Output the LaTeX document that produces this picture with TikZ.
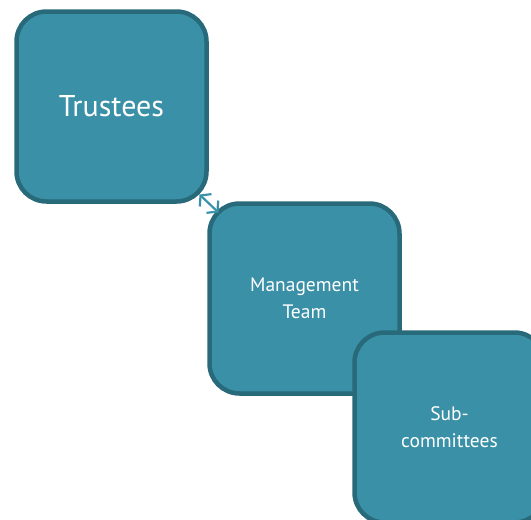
\documentclass[tikz,border=0pt]{standalone}
\usepackage{fontspec}
\setmainfont{PT Sans}
\usetikzlibrary{arrows.meta,calc}
\definecolor{boxfill}{RGB}{58,144,166}
\definecolor{boxline}{RGB}{40,106,122}
\definecolor{arrowcol}{RGB}{58,146,170}
\begin{document}
\begin{tikzpicture}[x=1pt,y=-1pt,
  orgbox/.style={draw=boxline, fill=boxfill, line width=4.5pt, rounded corners=30pt,
    minimum width=190pt, minimum height=190pt, outer sep=0pt, inner sep=0pt,
    text=white, align=center},
  bigtext/.style={font=\fontsize{30}{34}\selectfont},
  smalltext/.style={font=\fontsize{19.5}{27}\selectfont},
  link/.style={draw=arrowcol, line width=2.2pt,
    {Straight Barb[length=7pt,width=17pt]}-{Straight Barb[length=7pt,width=17pt]}}]
\useasboundingbox (0,0) rectangle (531,520);
\clip (0,0) rectangle (531,520);
\node[orgbox, bigtext] (t) at (111.5,106.5) {\raisebox{-2pt}{Trustees}};
\node[orgbox, smalltext] (m) at (304.5,298.5) {Management\\Team};
\coordinate (a) at ($(t.south east)+(-7,-7)$);
\coordinate (b) at ($(m.north west)+(9,9)$);
\draw[link] (a) -- (b);
\node[orgbox, smalltext] (s) at (449.5,427.5) {Sub-\\committees};
\end{tikzpicture}
\end{document}
